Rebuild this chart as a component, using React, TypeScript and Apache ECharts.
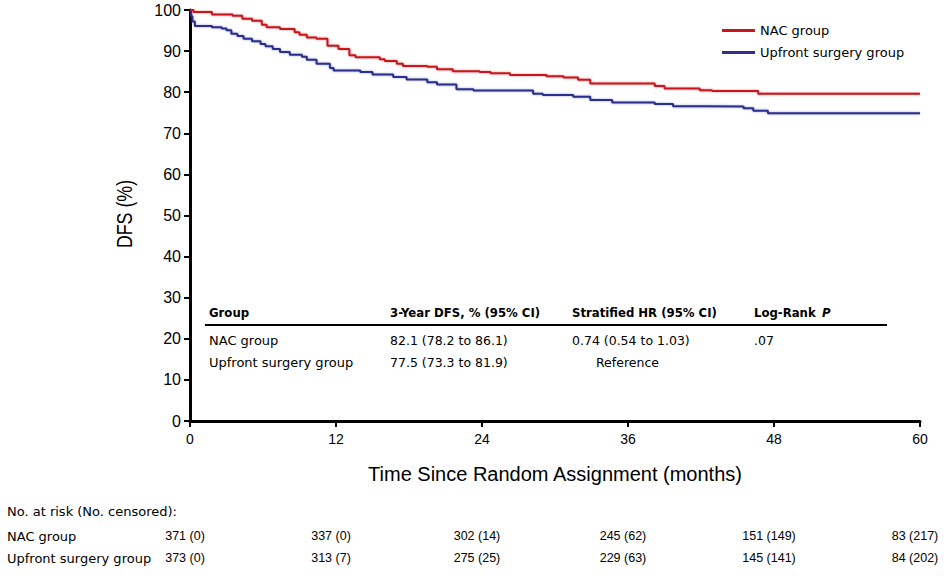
import React, { useEffect, useRef } from "react";
import * as echarts from "echarts";

// Kaplan-Meier step data (months, DFS %)
const nacMonths = [0, 0.3, 1.8, 3.5, 4.3, 5.1, 5.9, 6.3, 7.4, 8.6, 9.0, 9.6, 10.4, 11.3, 12.2, 13.1, 13.6, 15.6, 16.0, 17.0, 17.5, 19.5, 20.3, 21.6, 23.8, 24.7, 26.3, 29.3, 30.7, 31.9, 32.9, 38.2, 39.0, 41.9, 42.9, 46.7, 60];
const nacDFS = [100, 99.5, 98.9, 98.6, 97.9, 97.4, 96.4, 95.8, 95.4, 94.6, 94.0, 93.3, 93.0, 91.3, 90.5, 89.0, 88.5, 88.0, 87.6, 86.9, 86.4, 86.2, 85.6, 85.1, 84.9, 84.6, 84.2, 83.9, 83.6, 83.0, 82.1, 81.5, 80.9, 80.5, 80.3, 79.6, 79.6];

const upfrontMonths = [0, 0.1, 0.2, 0.4, 1.8, 2.6, 3.0, 3.4, 3.9, 4.4, 5.1, 5.8, 6.2, 6.8, 7.4, 8.2, 9.2, 9.6, 10.4, 11.5, 11.8, 14.0, 15.0, 16.7, 17.8, 19.5, 20.3, 21.9, 23.3, 28.2, 29.0, 31.5, 32.9, 34.7, 38.2, 39.7, 42.2, 45.5, 46.3, 47.5, 60];
const upfrontDFS = [100, 98.5, 97.2, 96.1, 95.8, 95.5, 95.1, 94.2, 93.7, 93.0, 92.4, 91.7, 91.2, 90.5, 89.8, 89.1, 88.6, 87.9, 86.9, 85.9, 85.3, 84.9, 84.3, 83.7, 83.1, 82.4, 81.9, 80.7, 80.4, 79.6, 79.3, 78.9, 78.1, 77.5, 77.1, 76.6, 76.5, 76.1, 75.5, 74.9, 74.9];

const seriesNames = ["NAC group", "Upfront surgery group"];

// Summary table
const tableHeaders = ["Group", "3-Year DFS, % (95% CI)", "Stratified HR (95% CI)", "Log-Rank "];
const tableRowNAC = ["NAC group", "82.1 (78.2 to 86.1)", "0.74 (0.54 to 1.03)", ".07"];
const tableRowUpfront = ["Upfront surgery group", "77.5 (73.3 to 81.9)", "Reference", ""];

// Number at risk
const riskMonths = [0, 12, 24, 36, 48, 60];
const riskNAC = ["371 (0)", "337 (0)", "302 (14)", "245 (62)", "151 (149)", "83 (217)"];
const riskUpfront = ["373 (0)", "313 (7)", "275 (25)", "229 (63)", "145 (141)", "84 (202)"];

const RED = "#c8161d";
const BLUE = "#2c2f8c";
const SANS = "'Liberation Sans', Arial, Helvetica, sans-serif";
const DEJAVU = "'DejaVu Sans', Verdana, sans-serif";
const NARROW = "'Liberation Sans Narrow', 'Arial Narrow', 'DejaVu Sans Condensed', sans-serif";

function pairs(xs: number[], ys: number[]) {
  return xs.map((x, i) => [x, ys[i]]);
}

export default function App() {
  const ref = useRef<HTMLDivElement>(null);
  useEffect(() => {
    if (!ref.current) return;
    const chart = echarts.init(ref.current, undefined, { renderer: "svg" });
    const option: any = {
      animation: false,
      backgroundColor: "#ffffff",
      grid: { left: 190, right: 32, top: 10, bottom: 155 },
      legend: {
        orient: "vertical",
        left: 717,
        top: 19,
        itemWidth: 33,
        itemHeight: 3,
        itemGap: 9,
        icon: "rect",
        textStyle: { fontFamily: DEJAVU, fontSize: 13, color: "#000" },
        data: seriesNames,
      },
      xAxis: {
        type: "value",
        min: 0,
        max: 60,
        interval: 12,
        axisLine: { lineStyle: { color: "#000", width: 3 } },
        axisTick: { show: true, length: 6, lineStyle: { color: "#000", width: 2 } },
        axisLabel: { color: "#000", fontFamily: SANS, fontSize: 14, margin: 11 },
        splitLine: { show: false },
        name: "Time Since Random Assignment (months)",
        nameLocation: "middle",
        nameGap: 43,
        nameTextStyle: { color: "#000", fontFamily: SANS, fontSize: 20 },
      },
      yAxis: {
        type: "value",
        min: 0,
        max: 100,
        interval: 10,
        axisLine: { show: true, lineStyle: { color: "#000", width: 3 } },
        axisTick: { show: true, length: 6, lineStyle: { color: "#000", width: 2 } },
        axisLabel: { color: "#000", fontFamily: SANS, fontSize: 16, margin: 9 },
        splitLine: { show: false },
      },
      series: [
        {
          name: seriesNames[0],
          type: "line",
          step: "end",
          symbol: "none",
          color: RED,
          lineStyle: { width: 2, color: RED, shadowBlur: 2, shadowColor: "rgba(200,22,29,0.45)" },
          data: pairs(nacMonths, nacDFS),
          z: 3,
        },
        {
          name: seriesNames[1],
          type: "line",
          step: "end",
          symbol: "none",
          color: BLUE,
          lineStyle: { width: 2, color: BLUE, shadowBlur: 2, shadowColor: "rgba(44,47,140,0.45)" },
          data: pairs(upfrontMonths, upfrontDFS),
          z: 2,
        },
      ],
    };
    chart.setOption(option);

    const colX = [209, 390, 572, 754];
    const txt = (x: number, y: number, s: string, extra: any = {}) => ({
      type: "text",
      x,
      y,
      style: {
        text: s,
        fill: "#000",
        font: `13px ${DEJAVU}`,
        textVerticalAlign: "middle",
        ...extra,
      },
    });
    const graphics: any[] = [];
    // y-axis title, rotated and condensed
    graphics.push({
      type: "text",
      x: 124,
      y: 214,
      rotation: Math.PI / 2,
      scaleX: 0.81,
      style: {
        text: "DFS (%)",
        fill: "#000",
        font: `22px ${SANS}`,
        textAlign: "center",
        textVerticalAlign: "middle",
      },
    });
    tableHeaders.forEach((h, i) => {
      graphics.push(txt(colX[i], 312, h, { font: `bold 13px ${NARROW}` }));
    });
    graphics.push({
      type: "text",
      x: 822,
      y: 312,
      style: { text: "P", fill: "#000", font: `italic bold 13px ${NARROW}`, textVerticalAlign: "middle" },
    });
    graphics.push({
      type: "line",
      shape: { x1: 205, y1: 325, x2: 887, y2: 325 },
      style: { stroke: "#000", lineWidth: 2 },
    });
    tableRowNAC.forEach((s, i) =>
      graphics.push(txt(colX[i], 340, s, i === 0 ? {} : { font: `12.5px ${DEJAVU}` }))
    );
    tableRowUpfront.forEach((s, i) => {
      if (s) graphics.push(txt(i === 2 ? 596 : colX[i], 362, s, i === 0 ? {} : { font: `12.5px ${DEJAVU}` }));
    });

    graphics.push(txt(7, 511, "No. at risk (No. censored):"));
    graphics.push(txt(7, 536, seriesNames[0]));
    graphics.push(txt(7, 558, seriesNames[1]));
    riskMonths.forEach((m, i) => {
      const px = (chart.convertToPixel({ xAxisIndex: 0 }, m) as number) - 5;
      const numFont = { textAlign: "center", font: `12.5px ${SANS}` };
      graphics.push(txt(px, 536, riskNAC[i], numFont));
      graphics.push(txt(px, 558, riskUpfront[i], numFont));
    });
    chart.setOption({ graphic: graphics });

    return () => chart.dispose();
  }, []);
  return (
    <div
      ref={ref}
      style={{ position: "fixed", left: 0, top: 0, width: 952, height: 576, background: "#fff" }}
    />
  );
}
